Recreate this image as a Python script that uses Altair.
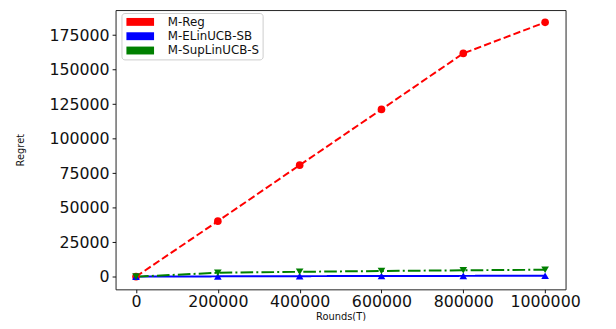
import altair as alt
import pandas as pd

rounds = [0, 200000, 400000, 600000, 800000, 1000000]
series_names = ["M-Reg", "M-ELinUCB-SB", "M-SupLinUCB-S"]
reg = [0, 40200, 80800, 121200, 161800, 184300]
elin = [0, 200, 350, 450, 550, 650]
suplin = [0, 2800, 3500, 4100, 4600, 5000]
colors = ["#ff0000", "#0000ff", "#008000"]
marker_shapes = ["circle", "triangle-up", "triangle-down"]
y_ticks = [0, 25000, 50000, 75000, 100000, 125000, 150000, 175000]

rows = []
for name, vals in zip(series_names, [reg, elin, suplin]):
    for t, v in zip(rounds, vals):
        rows.append({"series": name, "T": t, "regret": v})
df = pd.DataFrame(rows)

FONT = "DejaVu Sans"
color_scale = alt.Scale(domain=series_names, range=colors)
RECT = "M-1,-1H6V1H-1Z"

x = alt.X("T:Q", scale=alt.Scale(domain=[-50000, 1050000], nice=False, zero=False),
          axis=alt.Axis(values=rounds, format="d", title="Rounds(T)", grid=False,
                        labelOverlap=False, labelFlush=False, labelFontSize=16,
                        labelPadding=1, tickSize=3.5, titleFontSize=10,
                        titleFontWeight="normal", titleY=23, titleColor="#111",
                        labelColor="#111", tickColor="#111", domain=False,
                        labelFont=FONT, titleFont=FONT))
y = alt.Y("regret:Q", scale=alt.Scale(domain=[-9200, 193200], nice=False, zero=False),
          axis=alt.Axis(values=y_ticks, format="d", title="Regret", grid=False,
                        labelFontSize=16, labelPadding=3, tickSize=3.5,
                        titleFontSize=10, titleFontWeight="normal", titleX=-91,
                        titleColor="#111", labelColor="#111", tickColor="#111",
                        domain=False, labelFont=FONT, titleFont=FONT))

legend = alt.Legend(
    title=None, orient="none", legendX=6, legendY=3,
    symbolType=RECT, symbolSize=64, symbolOpacity=1,
    symbolStrokeWidth=0, labelFontSize=12, labelFont=FONT, labelColor="#111",
    labelOffset=32, rowPadding=2.5, padding=3, strokeColor="#cccccc",
    fillColor="white", cornerRadius=3)

base = alt.Chart(df)

legend_layer = base.mark_point(filled=True, opacity=0).encode(
    x=x, y=y,
    color=alt.Color("series:N", scale=color_scale, legend=legend),
)

lines = base.mark_line(strokeWidth=2).encode(
    x=x, y=y,
    color=alt.Color("series:N", scale=color_scale, legend=legend),
    strokeDash=alt.StrokeDash("series:N", scale=alt.Scale(
        domain=series_names, range=[[7.4, 3.2], [1, 0], [12.8, 3.2, 2, 3.2]]), legend=None),
)

point_layers = []
for name, c, shp in zip(series_names, colors, marker_shapes):
    point_layers.append(
        base.transform_filter(alt.datum.series == name)
        .mark_point(filled=True, opacity=1, size=60, shape=shp, color=c)
        .encode(x=x, y=y)
    )

chart = alt.layer(legend_layer, lines, *point_layers).properties(
    width=456, height=283,
    padding={"left": 109, "top": 0, "right": 43, "bottom": 30},
    autosize=alt.AutoSizeParams(type="none"),
    background="white",
).configure_view(stroke="#222", strokeWidth=1)

chart.save("out.html", embed_options={"renderer": "svg", "actions": False})
